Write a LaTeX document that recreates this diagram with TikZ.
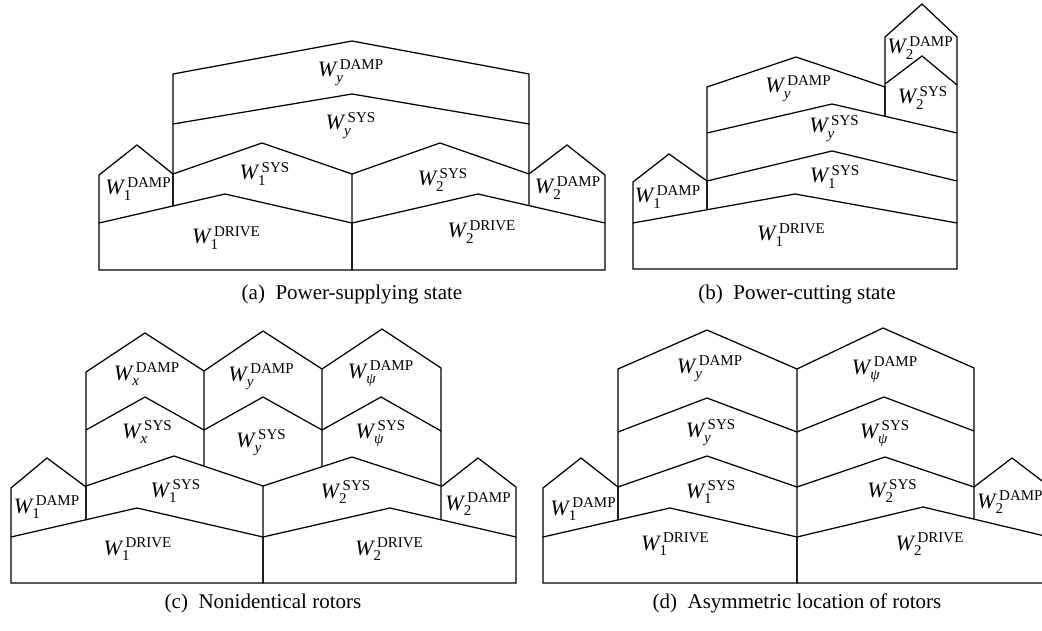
\documentclass[tikz,border=0pt]{standalone}
\usepackage{fontspec}
\setmainfont{Liberation Serif}
% script size for the indices of the energy symbols
\newcommand\idxsize{\fontsize{15}{15}\selectfont}
% W with a lower index #1 and an upper index #2
\newcommand\Wsym[2]{\textit{W}\kern-1.5pt\raisebox{-5.5pt}{\rlap{\idxsize#1}}\kern3.5pt\raisebox{7.5pt}{\idxsize#2}}
\begin{document}
\begin{tikzpicture}[x=1pt,y=-1pt,
  wall/.style={line width=1.25pt,line join=miter},
  lab/.style={inner sep=0pt,anchor=base,font=\fontsize{22}{22}\selectfont},
  captxt/.style={inner sep=0pt,anchor=base,font=\fontsize{21}{21}\selectfont}]
\useasboundingbox (0,0) rectangle (1042,631);
\clip (0,0) rectangle (1042,631);

% ---------------- (a) power-supplying state ----------------
\draw[wall] (99,270)--(99,223)--(225,194)--(352,223)--(352,270)--cycle;
\draw[wall] (352,270)--(352,223)--(478,194)--(605,223)--(605,270)--cycle;
\draw[wall] (99,223)--(99,175)--(137,145)--(173,174)--(173,206);
\draw[wall] (173,206)--(173,174)--(262,143)--(352,174)--(352,223);
\draw[wall] (352,174)--(440,143)--(529,174)--(529,206);
\draw[wall] (529,174)--(567,145)--(605,175)--(605,223);
\draw[wall] (173,174)--(173,124)--(352,94)--(529,124)--(529,174);
\draw[wall] (173,124)--(173,74)--(352,41)--(529,74)--(529,124);

\node[lab] (a-yd) at (350.5,77)  {\Wsym{\textit{y}}{DAMP}};
\node[lab] (a-ys) at (350.5,130) {\Wsym{\textit{y}}{SYS}};
\node[lab] (a-1s) at (264.5,180) {\Wsym{1}{SYS}};
\node[lab] (a-2s) at (442.5,186) {\Wsym{2}{SYS}};
\node[lab] (a-1d) at (138,195)   {\Wsym{1}{DAMP}};
\node[lab] (a-2d) at (567.5,194) {\Wsym{2}{DAMP}};
\node[lab] (a-1v) at (226,244)   {\Wsym{1}{DRIVE}};
\node[lab] (a-2v) at (481.5,238) {\Wsym{2}{DRIVE}};
\node[captxt] (capa) at (352,299) {(a)\enspace Power-supplying state};

% ---------------- (b) power-cutting state ----------------
\draw[wall] (633,269)--(633,223)--(795,194)--(957,223)--(957,269)--cycle;
\draw[wall] (633,223)--(633,182)--(669,154)--(707,181)--(707,210);
\draw[wall] (707,210)--(707,181)--(832,151)--(957,181)--(957,223);
\draw[wall] (707,181)--(707,133)--(832,104)--(957,133)--(957,181);
\draw[wall] (707,133)--(707,87)--(796,57)--(885,87)--(885,117);
\draw[wall] (885,117)--(885,84)--(922,56)--(957,85)--(957,133);
\draw[wall] (885,84)--(885,37)--(922,4)--(957,37)--(957,85);

\node[lab] (b-1v) at (791,241)   {\Wsym{1}{DRIVE}};
\node[lab] (b-1s) at (834.5,183) {\Wsym{1}{SYS}};
\node[lab] (b-ys) at (834,133)   {\Wsym{\textit{y}}{SYS}};
\node[lab] (b-yd) at (798,93)    {\Wsym{\textit{y}}{DAMP}};
\node[lab] (b-1d) at (667.5,203) {\Wsym{1}{DAMP}};
\node[lab] (b-2s) at (922.5,104) {\Wsym{2}{SYS}};
\node[lab] (b-2d) at (920,54)    {\Wsym{2}{DAMP}};
\node[captxt] (capb) at (797,299) {(b)\enspace Power-cutting state};

% ---------------- (c) nonidentical rotors ----------------
\draw[wall] (11,583)--(11,537)--(137,508)--(263,537)--(263,583)--cycle;
\draw[wall] (263,583)--(263,537)--(390,508)--(516,537)--(516,583)--cycle;
\draw[wall] (11,537)--(11,488)--(47,458)--(86,487)--(86,520);
\draw[wall] (86,520)--(86,486)--(174,456)--(263,486)--(263,537);
\draw[wall] (263,486)--(352,457)--(441,486)--(441,520);
\draw[wall] (441,487)--(478,458)--(516,487)--(516,537);
\draw[wall] (86,486)--(86,430)--(145,397)--(204,430)--(204,466);
\draw[wall] (86,430)--(86,372)--(145,333)--(204,371)--(204,430);
\draw[wall] (204,430)--(263,397)--(322,430)--(322,467);
\draw[wall] (204,371)--(263,331)--(322,369)--(322,430);
\draw[wall] (322,430)--(381,397)--(441,431)--(441,486);
\draw[wall] (322,369)--(382,329)--(441,368)--(441,431);

\node[lab] (c-1v) at (137.5,555) {\Wsym{1}{DRIVE}};
\node[lab] (c-2v) at (389,555)   {\Wsym{2}{DRIVE}};
\node[lab] (c-1d) at (46.5,513)  {\Wsym{1}{DAMP}};
\node[lab] (c-1s) at (175.5,497) {\Wsym{1}{SYS}};
\node[lab] (c-2s) at (345.5,498) {\Wsym{2}{SYS}};
\node[lab] (c-2d) at (478,510)   {\Wsym{2}{DAMP}};
\node[lab] (c-xs) at (147,438)   {\Wsym{\textit{x}}{SYS}};
\node[lab] (c-ys) at (261,447)   {\Wsym{\textit{y}}{SYS}};
\node[lab] (c-ps) at (380.5,438) {\Wsym{\textit{ψ}}{SYS}};
\node[lab] (c-xd) at (146.5,380) {\Wsym{\textit{x}}{DAMP}};
\node[lab] (c-yd) at (261,381)   {\Wsym{\textit{y}}{DAMP}};
\node[lab] (c-pd) at (380.5,378) {\Wsym{\textit{ψ}}{DAMP}};
\node[captxt] (capc) at (263,608) {(c)\enspace Nonidentical rotors};

% ---------------- (d) asymmetric location of rotors ----------------
\draw[wall] (543,583)--(543,537)--(670,508)--(797,537)--(797,583)--cycle;
\draw[wall] (797,583)--(797,537)--(923,507)--(1049,537)--(1049,583)--cycle;
\draw[wall] (543,537)--(543,488)--(581,458)--(618,487)--(618,520);
\draw[wall] (618,520)--(618,487)--(707,456)--(797,487)--(797,537);
\draw[wall] (618,487)--(618,432)--(707,398)--(797,432)--(797,487);
\draw[wall] (618,432)--(618,369)--(707,330)--(797,369)--(797,432);
\draw[wall] (797,487)--(885,457)--(974,487)--(974,519);
\draw[wall] (797,432)--(884,397)--(974,431)--(974,487);
\draw[wall] (797,369)--(883,328)--(974,368)--(974,431);
\draw[wall] (974,487)--(1012,458)--(1050,487)--(1050,537);

\node[lab] (d-1v) at (675,550)   {\Wsym{1}{DRIVE}};
\node[lab] (d-2v) at (929.5,550) {\Wsym{2}{DRIVE}};
\node[lab] (d-1d) at (583,515)   {\Wsym{1}{DAMP}};
\node[lab] (d-1s) at (710.5,498) {\Wsym{1}{SYS}};
\node[lab] (d-ys) at (710.5,437) {\Wsym{\textit{y}}{SYS}};
\node[lab] (d-yd) at (709.5,373) {\Wsym{\textit{y}}{DAMP}};
\node[lab] (d-2s) at (892,497)   {\Wsym{2}{SYS}};
\node[lab] (d-ps) at (884.5,438) {\Wsym{\textit{ψ}}{SYS}};
\node[lab] (d-pd) at (884.5,374) {\Wsym{\textit{ψ}}{DAMP}};
\node[lab,anchor=base west] (d-2d) at (977,508) {\Wsym{2}{DAMP}};
\node[captxt] (capd) at (797,608) {(d)\enspace Asymmetric location of rotors};
\end{tikzpicture}
\end{document}
